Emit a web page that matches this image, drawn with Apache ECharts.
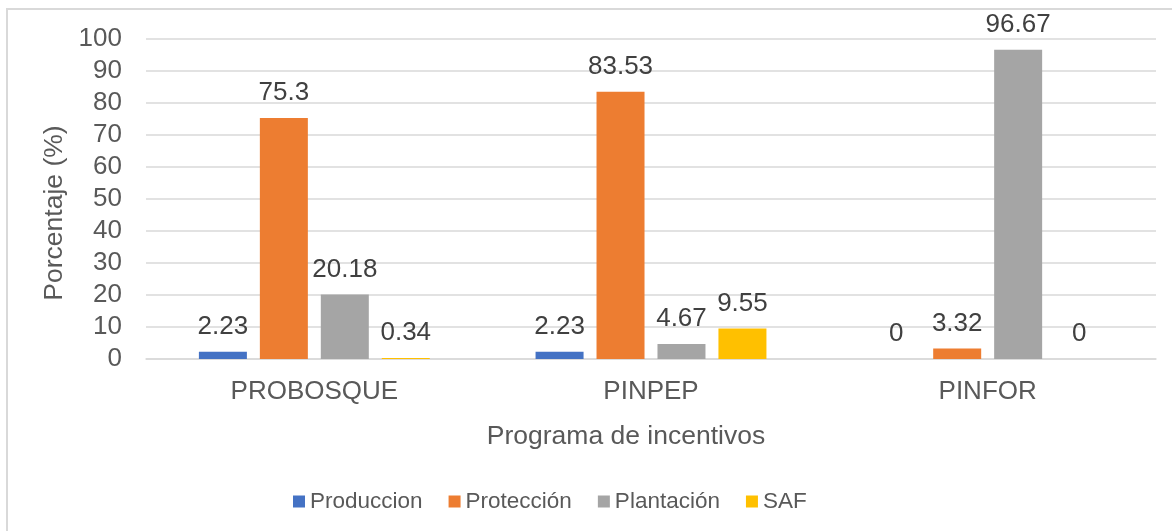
<!DOCTYPE html>
<html>
<head>
<meta charset="utf-8">
<script src="https://cdn.jsdelivr.net/npm/echarts@6/dist/echarts.min.js"></script>
<style>
  html, body { margin: 0; padding: 0; background: #fff; }
  #main { width: 1172px; height: 531px; }
</style>
</head>
<body>
<div id="main"></div>
<script>
// datos
var programas = ['PROBOSQUE', 'PINPEP', 'PINFOR'];
var produccion = [2.23, 2.23, 0];
var proteccion = [75.3, 83.53, 3.32];
var plantacion = [20.18, 4.67, 96.67];
var saf = [0.34, 9.55, 0];

var fuente = 'Liberation Sans, Arial, sans-serif';

function serie(nombre, datos, color) {
    return {
        name: nombre,
        type: 'bar',
        data: datos,
        barWidth: 48,
        barGap: '27%',
        itemStyle: { color: color },
        label: {
            show: true,
            position: 'top',
            distance: 12,
            color: '#404040',
            fontSize: 26,
            fontFamily: fuente
        }
    };
}

var myChart = echarts.init(document.getElementById('main'));
var option = {
    backgroundColor: '#fff',
    animation: false,
    textStyle: { fontFamily: fuente },
    graphic: [{
        type: 'rect',
        shape: { x: 7, y: 9, width: 1200, height: 600 },
        style: { fill: 'none', stroke: '#d9d9d9', lineWidth: 2 },
        silent: true
    }],
    grid: {
        left: 146,
        right: 16,
        top: 39,
        bottom: 172
    },
    legend: {
        left: 288,
        top: 485,
        icon: 'rect',
        itemWidth: 12,
        itemHeight: 12,
        itemGap: 26,
        textStyle: { color: '#595959', fontSize: 22.5, fontFamily: fuente }
    },
    xAxis: {
        type: 'category',
        data: programas,
        name: 'Programa de incentivos',
        nameLocation: 'middle',
        nameGap: 64,
        nameTextStyle: { color: '#595959', fontSize: 26.5, fontFamily: fuente, padding: [0, 50, 0, 0] },
        axisLine: { lineStyle: { color: '#d9d9d9', width: 1.5 } },
        axisTick: { show: false },
        axisLabel: { color: '#595959', fontSize: 26, margin: 20, fontFamily: fuente }
    },
    yAxis: {
        type: 'value',
        min: 0,
        max: 100,
        interval: 10,
        name: 'Porcentaje (%)',
        nameLocation: 'middle',
        nameGap: 69,
        nameTextStyle: { color: '#595959', fontSize: 26.5, fontFamily: fuente, padding: [0, 28, 0, 0] },
        axisLine: { show: false },
        axisTick: { show: false },
        axisLabel: { color: '#595959', fontSize: 26, margin: 24, fontFamily: fuente },
        splitLine: { lineStyle: { color: '#d9d9d9', width: 1.5 } }
    },
    series: [
        serie('Produccion', produccion, '#4472C4'),
        serie('Protección', proteccion, '#ED7D31'),
        serie('Plantación', plantacion, '#A5A5A5'),
        serie('SAF', saf, '#FFC000')
    ]
};
myChart.setOption(option);
</script>
</body>
</html>
